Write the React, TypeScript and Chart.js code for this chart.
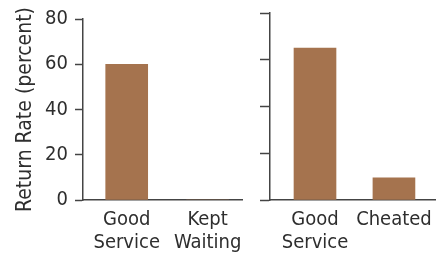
import React, { useEffect, useRef } from 'react';
import { Chart, registerables } from 'chart.js';
Chart.register(...registerables);

const LEFT_CATEGORIES: string[][] = [['Good', 'Service'], ['Kept', 'Waiting']];
const LEFT_VALUES = [60, 0];
const RIGHT_CATEGORIES: string[][] = [['Good', 'Service'], ['Cheated']];
const RIGHT_VALUES = [65, 9.5];
const Y_TICKS = [0, 20, 40, 60, 80];
const Y_TITLE = 'Return Rate (percent)';

const BAR_COLOR = '#a5734e';
const AXIS_COLOR = '#444444';
const TEXT_COLOR = '#2e2e2e';
const FONT = 'DejaVu Sans Condensed';

type PanelProps = {
  categories: string[][];
  values: number[];
  width: number;
  xMin: number;
  xMax: number;
  yWidth: number;
  tickLen: number;
  showY: boolean;
  padRight: number;
  left: number;
};

function Panel(p: PanelProps) {
  const ref = useRef<HTMLCanvasElement | null>(null);
  useEffect(() => {
    if (!ref.current) return;
    const chart = new Chart(ref.current, {
      type: 'bar',
      data: {
        datasets: [
          {
            data: p.values.map((v, i) => ({ x: i + 1, y: v })),
            backgroundColor: BAR_COLOR,
            borderWidth: 0,
            barThickness: 42,
          },
        ],
      },
      options: {
        responsive: false,
        maintainAspectRatio: false,
        animation: false,
        layout: { padding: { left: 0, right: p.padRight, top: 13, bottom: 0 } },
        plugins: { legend: { display: false }, tooltip: { enabled: false } },
        scales: {
          x: {
            type: 'linear',
            min: p.xMin,
            max: p.xMax,
            offset: false,
            afterBuildTicks: (s: any) => {
              s.ticks = p.categories.map((_, i) => ({ value: i + 1 }));
            },
            afterFit: (s: any) => {
              s.height = 59;
            },
            grid: { display: false, drawTicks: false },
            border: { display: true, color: AXIS_COLOR, width: 1.5 },
            ticks: {
              autoSkip: false,
              maxRotation: 0,
              padding: 8,
              color: TEXT_COLOR,
              font: { family: FONT, size: 20, lineHeight: 1.15 },
              callback: (v: any) => p.categories[Number(v) - 1] ?? '',
            },
          },
          y: {
            min: 0,
            max: 80,
            afterBuildTicks: (s: any) => {
              s.ticks = Y_TICKS.map((v) => ({ value: v }));
            },
            afterFit: (s: any) => {
              s.width = p.yWidth;
            },
            grid: {
              drawOnChartArea: false,
              drawTicks: true,
              tickLength: p.tickLen,
              tickColor: AXIS_COLOR,
              tickWidth: 1.5,
            },
            border: { display: true, color: AXIS_COLOR, width: 1.5 },
            ticks: {
              display: p.showY,
              padding: 7,
              color: TEXT_COLOR,
              font: { family: FONT, size: 20 },
            },
            title: {
              display: p.showY,
              text: Y_TITLE,
              color: TEXT_COLOR,
              font: { family: FONT, size: 21 },
              padding: { top: 13, bottom: 0 },
            },
          },
        },
      },
    } as any);
    return () => chart.destroy();
  }, []);
  return (
    <canvas
      ref={ref}
      width={p.width}
      height={259}
      style={{ position: 'absolute', left: p.left, top: 0, width: p.width, height: 259 }}
    />
  );
}

export default function App() {
  return (
    <div style={{ position: 'absolute', left: 0, top: 0, width: 446, height: 259, background: '#fff' }}>
      <Panel
        categories={LEFT_CATEGORIES}
        values={LEFT_VALUES}
        width={250}
        left={0}
        xMin={0.46}
        xMax={2.43}
        yWidth={83}
        tickLen={8}
        showY={true}
        padRight={3}
      />
      <Panel
        categories={RIGHT_CATEGORIES}
        values={RIGHT_VALUES}
        width={196}
        left={250}
        xMin={0.43}
        xMax={2.52}
        yWidth={20}
        tickLen={10}
        showY={false}
        padRight={11}
      />
    </div>
  );
}
